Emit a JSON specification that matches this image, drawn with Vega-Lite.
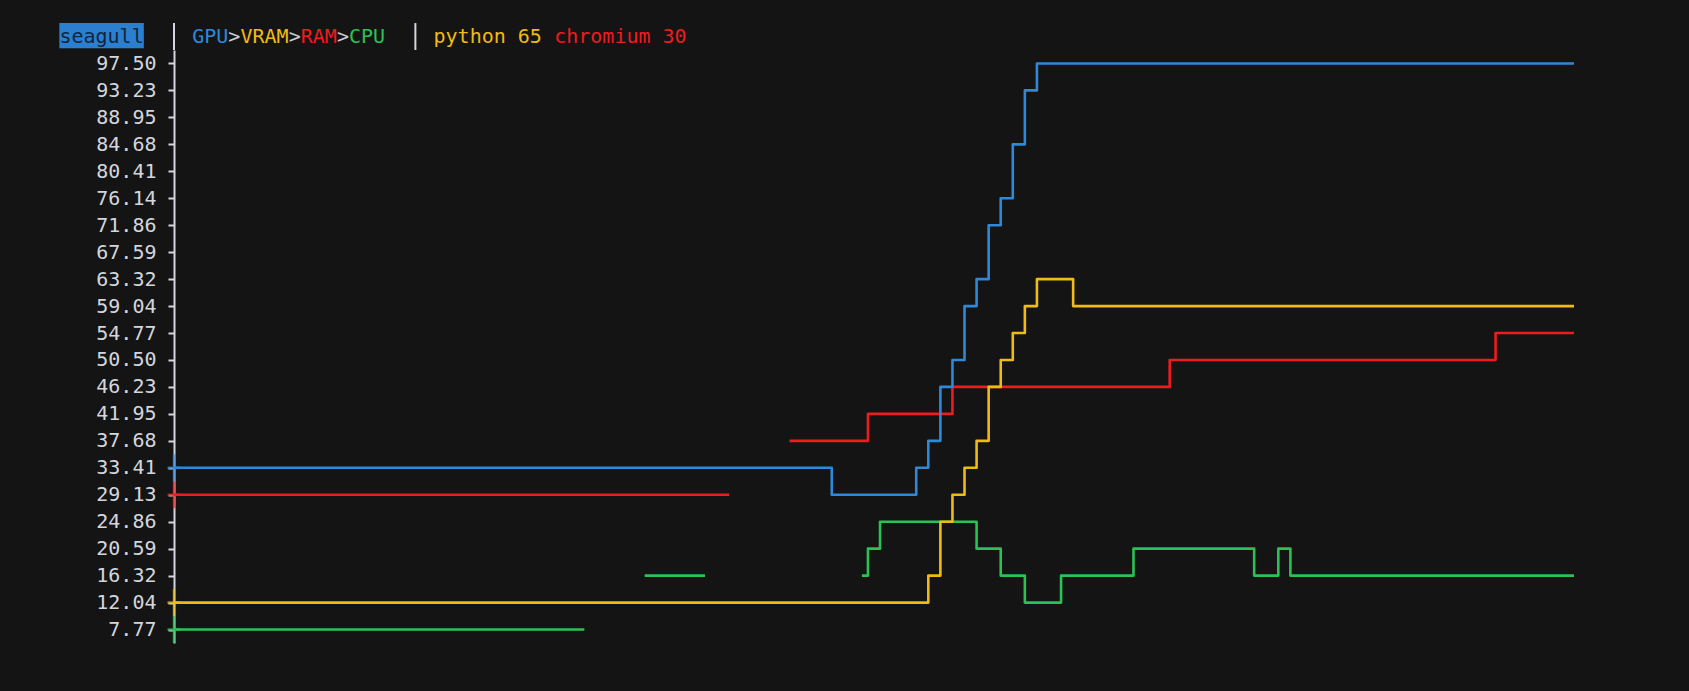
{
  "$schema": "https://vega.github.io/schema/vega-lite/v6.json",
  "width": 1400,
  "height": 593,
  "autosize": {"type": "none"},
  "padding": {"left": 174, "top": 50, "right": 115, "bottom": 48},
  "background": "#141414",
  "config": {"view": {"stroke": null}, "font": "DejaVu Sans Mono"},
  "resolve": {"axis": {"x": "independent", "y": "independent"}},
  "datasets": {
    "usage": [
      {"x":0,"GPU":33.41,"VRAM":12.04,"RAM":29.13,"CPU":7.77},
      {"x":1,"GPU":33.41,"VRAM":12.04,"RAM":29.13,"CPU":7.77},
      {"x":2,"GPU":33.41,"VRAM":12.04,"RAM":29.13,"CPU":7.77},
      {"x":3,"GPU":33.41,"VRAM":12.04,"RAM":29.13,"CPU":7.77},
      {"x":4,"GPU":33.41,"VRAM":12.04,"RAM":29.13,"CPU":7.77},
      {"x":5,"GPU":33.41,"VRAM":12.04,"RAM":29.13,"CPU":7.77},
      {"x":6,"GPU":33.41,"VRAM":12.04,"RAM":29.13,"CPU":7.77},
      {"x":7,"GPU":33.41,"VRAM":12.04,"RAM":29.13,"CPU":7.77},
      {"x":8,"GPU":33.41,"VRAM":12.04,"RAM":29.13,"CPU":7.77},
      {"x":9,"GPU":33.41,"VRAM":12.04,"RAM":29.13,"CPU":7.77},
      {"x":10,"GPU":33.41,"VRAM":12.04,"RAM":29.13,"CPU":7.77},
      {"x":11,"GPU":33.41,"VRAM":12.04,"RAM":29.13,"CPU":7.77},
      {"x":12,"GPU":33.41,"VRAM":12.04,"RAM":29.13,"CPU":7.77},
      {"x":13,"GPU":33.41,"VRAM":12.04,"RAM":29.13,"CPU":7.77},
      {"x":14,"GPU":33.41,"VRAM":12.04,"RAM":29.13,"CPU":7.77},
      {"x":15,"GPU":33.41,"VRAM":12.04,"RAM":29.13,"CPU":7.77},
      {"x":16,"GPU":33.41,"VRAM":12.04,"RAM":29.13,"CPU":7.77},
      {"x":17,"GPU":33.41,"VRAM":12.04,"RAM":29.13,"CPU":7.77},
      {"x":18,"GPU":33.41,"VRAM":12.04,"RAM":29.13,"CPU":7.77},
      {"x":19,"GPU":33.41,"VRAM":12.04,"RAM":29.13,"CPU":7.77},
      {"x":20,"GPU":33.41,"VRAM":12.04,"RAM":29.13,"CPU":7.77},
      {"x":21,"GPU":33.41,"VRAM":12.04,"RAM":29.13,"CPU":7.77},
      {"x":22,"GPU":33.41,"VRAM":12.04,"RAM":29.13,"CPU":7.77},
      {"x":23,"GPU":33.41,"VRAM":12.04,"RAM":29.13,"CPU":7.77},
      {"x":24,"GPU":33.41,"VRAM":12.04,"RAM":29.13,"CPU":7.77},
      {"x":25,"GPU":33.41,"VRAM":12.04,"RAM":29.13,"CPU":7.77},
      {"x":26,"GPU":33.41,"VRAM":12.04,"RAM":29.13,"CPU":7.77},
      {"x":27,"GPU":33.41,"VRAM":12.04,"RAM":29.13,"CPU":7.77},
      {"x":28,"GPU":33.41,"VRAM":12.04,"RAM":29.13,"CPU":7.77},
      {"x":29,"GPU":33.41,"VRAM":12.04,"RAM":29.13,"CPU":7.77},
      {"x":30,"GPU":33.41,"VRAM":12.04,"RAM":29.13,"CPU":7.77},
      {"x":31,"GPU":33.41,"VRAM":12.04,"RAM":29.13,"CPU":7.77},
      {"x":32,"GPU":33.41,"VRAM":12.04,"RAM":29.13,"CPU":7.77},
      {"x":33,"GPU":33.41,"VRAM":12.04,"RAM":29.13,"CPU":7.77},
      {"x":34,"GPU":33.41,"VRAM":12.04,"RAM":29.13,"CPU":7.77},
      {"x":35,"GPU":33.41,"VRAM":12.04,"RAM":29.13,"CPU":null},
      {"x":36,"GPU":33.41,"VRAM":12.04,"RAM":29.13,"CPU":null},
      {"x":37,"GPU":33.41,"VRAM":12.04,"RAM":29.13,"CPU":null},
      {"x":38,"GPU":33.41,"VRAM":12.04,"RAM":29.13,"CPU":null},
      {"x":39,"GPU":33.41,"VRAM":12.04,"RAM":29.13,"CPU":16.32},
      {"x":40,"GPU":33.41,"VRAM":12.04,"RAM":29.13,"CPU":16.32},
      {"x":41,"GPU":33.41,"VRAM":12.04,"RAM":29.13,"CPU":16.32},
      {"x":42,"GPU":33.41,"VRAM":12.04,"RAM":29.13,"CPU":16.32},
      {"x":43,"GPU":33.41,"VRAM":12.04,"RAM":29.13,"CPU":16.32},
      {"x":44,"GPU":33.41,"VRAM":12.04,"RAM":29.13,"CPU":16.32},
      {"x":45,"GPU":33.41,"VRAM":12.04,"RAM":29.13,"CPU":null},
      {"x":46,"GPU":33.41,"VRAM":12.04,"RAM":29.13,"CPU":null},
      {"x":47,"GPU":33.41,"VRAM":12.04,"RAM":null,"CPU":null},
      {"x":48,"GPU":33.41,"VRAM":12.04,"RAM":null,"CPU":null},
      {"x":49,"GPU":33.41,"VRAM":12.04,"RAM":null,"CPU":null},
      {"x":50,"GPU":33.41,"VRAM":12.04,"RAM":null,"CPU":null},
      {"x":51,"GPU":33.41,"VRAM":12.04,"RAM":37.68,"CPU":null},
      {"x":52,"GPU":33.41,"VRAM":12.04,"RAM":37.68,"CPU":null},
      {"x":53,"GPU":33.41,"VRAM":12.04,"RAM":37.68,"CPU":null},
      {"x":54,"GPU":33.41,"VRAM":12.04,"RAM":37.68,"CPU":null},
      {"x":55,"GPU":29.13,"VRAM":12.04,"RAM":37.68,"CPU":null},
      {"x":56,"GPU":29.13,"VRAM":12.04,"RAM":37.68,"CPU":null},
      {"x":57,"GPU":29.13,"VRAM":12.04,"RAM":37.68,"CPU":16.32},
      {"x":58,"GPU":29.13,"VRAM":12.04,"RAM":41.95,"CPU":20.59},
      {"x":59,"GPU":29.13,"VRAM":12.04,"RAM":41.95,"CPU":24.86},
      {"x":60,"GPU":29.13,"VRAM":12.04,"RAM":41.95,"CPU":24.86},
      {"x":61,"GPU":29.13,"VRAM":12.04,"RAM":41.95,"CPU":24.86},
      {"x":62,"GPU":33.41,"VRAM":12.04,"RAM":41.95,"CPU":24.86},
      {"x":63,"GPU":37.68,"VRAM":16.32,"RAM":41.95,"CPU":24.86},
      {"x":64,"GPU":46.23,"VRAM":24.86,"RAM":41.95,"CPU":24.86},
      {"x":65,"GPU":50.50,"VRAM":29.13,"RAM":46.23,"CPU":24.86},
      {"x":66,"GPU":59.04,"VRAM":33.41,"RAM":46.23,"CPU":24.86},
      {"x":67,"GPU":63.32,"VRAM":37.68,"RAM":46.23,"CPU":20.59},
      {"x":68,"GPU":71.86,"VRAM":46.23,"RAM":46.23,"CPU":20.59},
      {"x":69,"GPU":76.14,"VRAM":50.50,"RAM":46.23,"CPU":16.32},
      {"x":70,"GPU":84.68,"VRAM":54.77,"RAM":46.23,"CPU":16.32},
      {"x":71,"GPU":93.23,"VRAM":59.04,"RAM":46.23,"CPU":12.04},
      {"x":72,"GPU":97.50,"VRAM":63.32,"RAM":46.23,"CPU":12.04},
      {"x":73,"GPU":97.50,"VRAM":63.32,"RAM":46.23,"CPU":12.04},
      {"x":74,"GPU":97.50,"VRAM":63.32,"RAM":46.23,"CPU":16.32},
      {"x":75,"GPU":97.50,"VRAM":59.04,"RAM":46.23,"CPU":16.32},
      {"x":76,"GPU":97.50,"VRAM":59.04,"RAM":46.23,"CPU":16.32},
      {"x":77,"GPU":97.50,"VRAM":59.04,"RAM":46.23,"CPU":16.32},
      {"x":78,"GPU":97.50,"VRAM":59.04,"RAM":46.23,"CPU":16.32},
      {"x":79,"GPU":97.50,"VRAM":59.04,"RAM":46.23,"CPU":16.32},
      {"x":80,"GPU":97.50,"VRAM":59.04,"RAM":46.23,"CPU":20.59},
      {"x":81,"GPU":97.50,"VRAM":59.04,"RAM":46.23,"CPU":20.59},
      {"x":82,"GPU":97.50,"VRAM":59.04,"RAM":46.23,"CPU":20.59},
      {"x":83,"GPU":97.50,"VRAM":59.04,"RAM":50.50,"CPU":20.59},
      {"x":84,"GPU":97.50,"VRAM":59.04,"RAM":50.50,"CPU":20.59},
      {"x":85,"GPU":97.50,"VRAM":59.04,"RAM":50.50,"CPU":20.59},
      {"x":86,"GPU":97.50,"VRAM":59.04,"RAM":50.50,"CPU":20.59},
      {"x":87,"GPU":97.50,"VRAM":59.04,"RAM":50.50,"CPU":20.59},
      {"x":88,"GPU":97.50,"VRAM":59.04,"RAM":50.50,"CPU":20.59},
      {"x":89,"GPU":97.50,"VRAM":59.04,"RAM":50.50,"CPU":20.59},
      {"x":90,"GPU":97.50,"VRAM":59.04,"RAM":50.50,"CPU":16.32},
      {"x":91,"GPU":97.50,"VRAM":59.04,"RAM":50.50,"CPU":16.32},
      {"x":92,"GPU":97.50,"VRAM":59.04,"RAM":50.50,"CPU":20.59},
      {"x":93,"GPU":97.50,"VRAM":59.04,"RAM":50.50,"CPU":16.32},
      {"x":94,"GPU":97.50,"VRAM":59.04,"RAM":50.50,"CPU":16.32},
      {"x":95,"GPU":97.50,"VRAM":59.04,"RAM":50.50,"CPU":16.32},
      {"x":96,"GPU":97.50,"VRAM":59.04,"RAM":50.50,"CPU":16.32},
      {"x":97,"GPU":97.50,"VRAM":59.04,"RAM":50.50,"CPU":16.32},
      {"x":98,"GPU":97.50,"VRAM":59.04,"RAM":50.50,"CPU":16.32},
      {"x":99,"GPU":97.50,"VRAM":59.04,"RAM":50.50,"CPU":16.32},
      {"x":100,"GPU":97.50,"VRAM":59.04,"RAM":50.50,"CPU":16.32},
      {"x":101,"GPU":97.50,"VRAM":59.04,"RAM":50.50,"CPU":16.32},
      {"x":102,"GPU":97.50,"VRAM":59.04,"RAM":50.50,"CPU":16.32},
      {"x":103,"GPU":97.50,"VRAM":59.04,"RAM":50.50,"CPU":16.32},
      {"x":104,"GPU":97.50,"VRAM":59.04,"RAM":50.50,"CPU":16.32},
      {"x":105,"GPU":97.50,"VRAM":59.04,"RAM":50.50,"CPU":16.32},
      {"x":106,"GPU":97.50,"VRAM":59.04,"RAM":50.50,"CPU":16.32},
      {"x":107,"GPU":97.50,"VRAM":59.04,"RAM":50.50,"CPU":16.32},
      {"x":108,"GPU":97.50,"VRAM":59.04,"RAM":50.50,"CPU":16.32},
      {"x":109,"GPU":97.50,"VRAM":59.04,"RAM":50.50,"CPU":16.32},
      {"x":110,"GPU":97.50,"VRAM":59.04,"RAM":54.77,"CPU":16.32},
      {"x":111,"GPU":97.50,"VRAM":59.04,"RAM":54.77,"CPU":16.32},
      {"x":112,"GPU":97.50,"VRAM":59.04,"RAM":54.77,"CPU":16.32},
      {"x":113,"GPU":97.50,"VRAM":59.04,"RAM":54.77,"CPU":16.32},
      {"x":114,"GPU":97.50,"VRAM":59.04,"RAM":54.77,"CPU":16.32},
      {"x":115,"GPU":97.50,"VRAM":59.04,"RAM":54.77,"CPU":16.32},
      {"x":116,"GPU":97.50,"VRAM":59.04,"RAM":54.77,"CPU":16.32}
    ],
    "header": [
      {"text":"seagull","col":-9,"series":"host"},
      {"text":"GPU","col":2,"series":"GPU"},
      {"text":">","col":5,"series":"sep"},
      {"text":"VRAM","col":6,"series":"VRAM"},
      {"text":">","col":10,"series":"sep"},
      {"text":"RAM","col":11,"series":"RAM"},
      {"text":">","col":14,"series":"sep"},
      {"text":"CPU","col":15,"series":"CPU"},
      {"text":"python 65","col":22,"series":"VRAM"},
      {"text":"chromium 30","col":32,"series":"RAM"}
    ],
    "dividers": [{"col":0},{"col":20}]
  },
  "layer": [
    {
      "data": {"name": "usage"},
      "transform": [{"fold": ["RAM", "CPU", "GPU", "VRAM"], "as": ["series", "value"]}],
      "mark": {"type": "line", "interpolate": "step", "strokeWidth": 2.6, "strokeJoin": "round"},
      "encoding": {
        "x": {"field": "x", "type": "quantitative", "scale": {"domain": [0, 116], "nice": false, "zero": false}, "axis": null},
        "y": {"field": "value", "type": "quantitative",
          "scale": {"domain": [5.636, 99.636], "nice": false, "zero": false},
          "axis": {
            "values": [7.77, 12.04, 16.32, 20.59, 24.86, 29.13, 33.41, 37.68, 41.95, 46.23, 50.50, 54.77, 59.04, 63.32, 67.59, 71.86, 76.14, 80.41, 84.68, 88.95, 93.23, 97.50],
            "format": ".2f", "title": null, "grid": false,
            "domainColor": "#d3d6dd", "domainWidth": 2,
            "tickColor": "#d3d6dd", "tickWidth": 2, "tickSize": 6,
            "labelColor": "#d3d6dd", "labelFont": "DejaVu Sans Mono", "labelFontSize": 20, "labelPadding": 12,
            "labelOverlap": false, "labelBound": false, "labelFlush": false
          }},
        "color": {"field": "series", "type": "nominal", "legend": null,
          "scale": {"domain": ["GPU", "VRAM", "RAM", "CPU", "sep", "host"], "range": ["#2f88d8", "#f0bb12", "#ee1b1f", "#2ac255", "#c9ccd3", "#12253a"]}}
      }
    },
    {
      "data": {"name": "usage"},
      "transform": [{"fold": ["RAM", "CPU", "GPU", "VRAM"], "as": ["series", "value"]}, {"filter": "datum.x === 0"}],
      "mark": {"type": "tick", "orient": "vertical", "size": 27, "thickness": 2.4},
      "encoding": {
        "x": {"field": "x", "type": "quantitative", "axis": null},
        "y": {"field": "value", "type": "quantitative", "axis": null},
        "color": {"field": "series", "type": "nominal", "legend": null}
      }
    },
    {
      "data": {"name": "usage"},
      "transform": [{"fold": ["RAM", "CPU", "GPU", "VRAM"], "as": ["series", "value"]}, {"filter": "datum.x === 0"}],
      "mark": {"type": "tick", "orient": "horizontal", "size": 13, "thickness": 2.6},
      "encoding": {
        "x": {"field": "x", "type": "quantitative", "axis": null},
        "y": {"field": "value", "type": "quantitative", "axis": null},
        "color": {"field": "series", "type": "nominal", "legend": null}
      }
    },
    {
      "data": {"name": "dividers"},
      "mark": {"type": "rule", "color": "#d3d6dd", "strokeWidth": 2},
      "encoding": {
        "x": {"field": "col", "type": "quantitative", "axis": null},
        "y": {"datum": 99.636, "type": "quantitative", "axis": null},
        "y2": {"datum": 103.906}
      }
    },
    {
      "data": {"name": "header"},
      "transform": [{"filter": "datum.series === 'host'"}],
      "mark": {"type": "rect", "color": "#2b7fd0"},
      "encoding": {
        "x": {"datum": -9.5, "type": "quantitative", "axis": null},
        "x2": {"datum": -2.5},
        "y": {"datum": 99.9, "type": "quantitative", "axis": null},
        "y2": {"datum": 103.9}
      }
    },
    {
      "data": {"name": "header"},
      "mark": {"type": "text", "align": "left", "baseline": "middle", "font": "DejaVu Sans Mono", "fontSize": 20, "dx": -6},
      "encoding": {
        "x": {"field": "col", "type": "quantitative", "axis": null},
        "y": {"datum": 101.77, "type": "quantitative", "axis": null},
        "text": {"field": "text"},
        "color": {"field": "series", "type": "nominal", "legend": null}
      }
    }
  ]
}
